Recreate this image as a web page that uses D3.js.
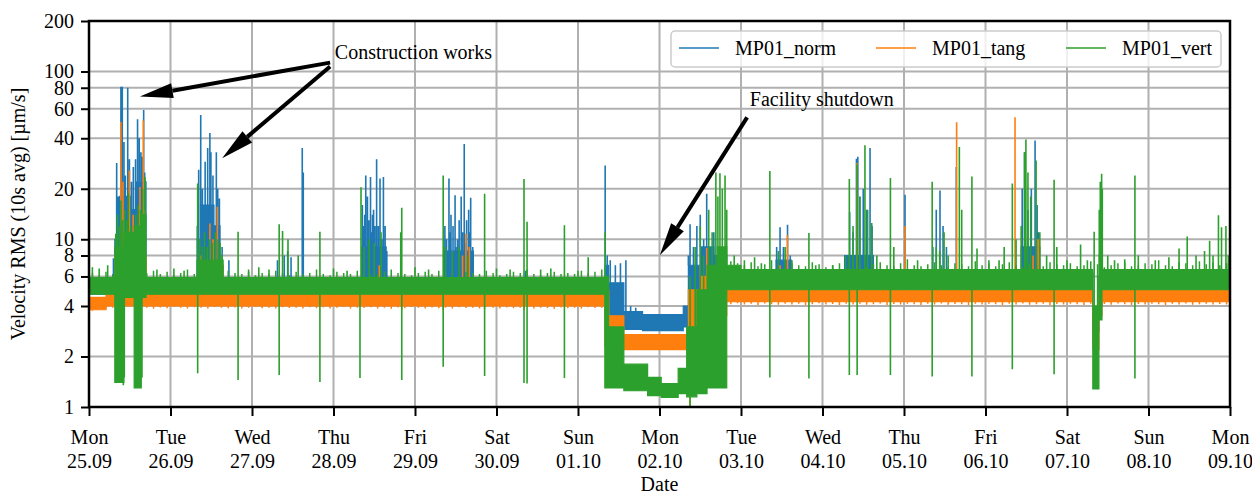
<!DOCTYPE html>
<html>
<head>
<meta charset="utf-8">
<script src="https://cdn.jsdelivr.net/npm/d3@7"></script>
<style>
  body { margin: 0; background: #fff; }
  svg { display: block; font-family: "Liberation Serif", "Times New Roman", serif; }
</style>
</head>
<body>
<svg id="chart" width="1252" height="494"></svg>
<script>
const W = 1252;
const H = 494;
const M = {top: 21, right: 22, bottom: 87, left: 89};

// time is in hours from Mon 25.09 00:00
const START = Date.UTC(2023, 8, 25);
const SPAN_HOURS = 336;

const yTicks = [1, 2, 4, 6, 8, 10, 20, 40, 60, 80, 100, 200];
const seriesNames = ['MP01_norm', 'MP01_tang', 'MP01_vert'];
const seriesColors = ['#1f77b4', '#ff7f0e', '#2ca02c'];

// noise band of each channel: [hour, low, high], a row holds until the next row
const normBand = [
  [0, 4.7, 5.8], [7.6, 5, 10], [9, 6, 18], [12.5, 6, 15], [14, 6, 22], [16.8, 4.7, 5.8],
  [31.8, 5.5, 10], [32.8, 6, 16], [36.8, 6, 12], [38.6, 5, 7], [39.5, 4.7, 5.8],
  [80.3, 5.5, 9], [87.5, 4.7, 5.8], [104.5, 5.5, 8.5], [113.2, 4.7, 5.8],
  [151.9, 3.6, 7], [153, 3.5, 5.5], [157.5, 2.9, 3.7], [163, 2.85, 3.55], [175, 3.0, 4.0],
  [176.5, 3.8, 7], [180, 4.5, 9], [184, 5, 8], [187.8, 5.0, 6.3],
  [202.3, 5.5, 7.5], [206.8, 5.0, 6.3], [222.5, 5.5, 8], [231, 5.0, 6.3],
  [274.5, 5.5, 9], [280, 5.0, 6.3], [295.6, 2.8, 3.6], [297.4, 4.0, 6], [298.3, 5.0, 6.3]
];
const tangBand = [
  [0, 3.8, 4.5], [5, 4.0, 4.7], [7.6, 4.0, 8], [16.8, 4.0, 4.7], [32, 4.0, 7], [39.5, 4.0, 4.7],
  [151.9, 2.3, 4.4], [153, 2.3, 3.5], [157.5, 2.2, 2.7], [176.5, 2.6, 5], [180, 3.0, 6], [184, 3.5, 6],
  [187.8, 4.25, 5.0], [295.6, 2.2, 3.2], [297.4, 3.5, 4.8], [298.3, 4.25, 5.0]
];
const vertBand = [
  [0, 4.7, 5.9], [7.6, 1.4, 9], [10.3, 4.5, 11], [13.3, 1.3, 12], [15.4, 4.5, 14], [16.8, 4.7, 5.9],
  [31.8, 4.7, 7.5], [39.5, 4.7, 5.9],
  [151.9, 1.3, 6], [153, 1.3, 3.0], [157.5, 1.25, 1.8], [164.5, 1.17, 1.5], [168.5, 1.14, 1.38],
  [173.5, 1.2, 1.7], [176, 1.15, 3], [179, 1.2, 5], [182, 1.3, 7], [185, 1.3, 9],
  [187.8, 5.0, 7.0], [192, 5.0, 6.6], [295.6, 1.28, 4], [297.4, 3.3, 8], [298.3, 5.0, 6.6]
];

// ragged edge of the quiet band, one reading every 2 h (0 = not read)
const vertTop = [
  6.3, 6.1, 6.4, 6.2, 0, 0, 0, 0, 6.3, 6.5,
  6.2, 6.4, 6.1, 6.3, 6.6, 6.2, 6.3, 6.1, 6.4, 6.2,
  6.5, 6.3, 6.2, 6.4, 6.1, 6.3, 6.2, 6.5, 6.3, 6.1,
  6.4, 6.2, 6.3, 6.6, 6.2, 6.1, 6.4, 6.3, 6.2, 6.5,
  6.3, 6.1, 6.2, 6.4, 6.6, 6.3, 6.2, 6.1, 6.3, 6.4,
  6.2, 6.5, 6.3, 6.2, 6.1, 6.4, 6.3, 6.2, 6.5, 6.3,
  6.1, 6.2, 6.4, 6.3, 6.6, 6.2, 6.1, 6.3, 6.4, 6.2,
  6.3, 6.2, 6.5, 6.3, 6.4, 6.6,
  0, 0, 0, 0, 0, 0, 0, 0, 0, 0, 0, 0, 0, 0, 0, 0, 0, 0,
  7.4, 7.2, 7.0, 7.3, 6.9, 7.1, 7.5, 7.0, 6.8, 7.2,
  7.0, 6.9, 7.3, 7.1, 6.8, 7.0, 7.2, 6.9, 7.4, 7.0,
  6.8, 7.1, 7.3, 7.0, 6.9, 7.2, 7.6, 7.0, 6.9, 7.1,
  7.3, 7.0, 6.8, 7.2, 7.1, 6.9, 7.4, 7.0, 7.2, 6.9,
  7.1, 7.3, 7.0, 6.8, 7.2, 7.0, 6.9, 7.3, 7.1, 7.0,
  7.2, 6.9, 7.0, 7.4, 7.1, 6.8, 7.0, 7.2, 7.3, 6.9,
  7.0, 7.2, 7.1, 7.5, 7.0, 6.9, 7.3, 7.2, 7.0, 7.4,
  7.1, 7.3, 7.0, 7.2
];
const tangLow = [
  3.75, 3.8, 3.85, 3.9, 0, 0, 0, 0, 3.9, 3.85,
  3.92, 3.88, 3.95, 3.9, 3.86, 3.93, 3.9, 3.87, 3.94, 3.9,
  3.88, 3.92, 3.86, 3.9, 3.94, 3.88, 3.91, 3.87, 3.93, 3.89,
  3.9, 3.86, 3.93, 3.88, 3.92, 3.87, 3.9, 3.94, 3.86, 3.91,
  3.89, 3.93, 3.87, 3.9, 3.85, 3.92, 3.88, 3.94, 3.9, 3.86,
  3.92, 3.88, 3.9, 3.86, 3.93, 3.89, 3.91, 3.87, 3.94, 3.9,
  3.86, 3.92, 3.88, 3.9, 3.94, 3.87, 3.91, 3.89, 3.85, 3.92,
  3.88, 3.9, 3.86, 3.93, 3.89, 3.91,
  0, 0, 0, 0, 0, 0, 0, 0, 0, 0, 0, 0, 0, 0, 0, 0, 0, 0,
  4.1, 4.15, 4.08, 4.12, 4.05, 4.14, 4.1, 4.07, 4.13, 4.09,
  4.12, 4.06, 4.1, 4.15, 4.08, 4.11, 4.05, 4.13, 4.09, 4.12,
  4.07, 4.1, 4.14, 4.06, 4.11, 4.08, 4.13, 4.1, 4.05, 4.12,
  4.09, 4.14, 4.07, 4.11, 4.1, 4.06, 4.13, 4.08, 4.12, 4.1,
  4.05, 4.12, 4.09, 4.14, 4.07, 4.1, 4.13, 4.06, 4.11, 4.08,
  4.12, 4.1, 4.05, 4.13, 4.09, 4.11, 4.07, 4.14, 4.1, 4.06,
  4.11, 4.08, 4.13, 4.1, 4.05, 4.12, 4.09, 4.14, 4.07, 4.1,
  4.12, 4.08, 4.11, 4.09
];

// single peaks and dips: [hour, value]
const normSpikes = [
  [7.2, 7.7], [8.15, 28.5], [8.6, 18], [9.4, 81], [9.8, 81], [10.3, 38], [10.7, 24], [11.4, 80],
  [11.9, 30], [12.5, 22], [13.05, 27], [13.7, 30], [14.3, 52], [14.8, 40], [15.3, 33], [15.6, 31],
  [16.1, 59], [16.4, 25],
  [31.9, 12], [32.3, 26], [32.9, 55], [33.4, 20], [34.2, 29], [34.95, 35], [35.6, 43], [35.9, 33],
  [36.5, 24], [37.5, 33], [37.9, 20], [38.4, 17.5], [39.2, 9], [41.2, 7.5],
  [55.5, 7.5], [57.5, 8], [58.5, 8.5], [59.5, 7.8], [62.8, 35], [63.1, 25],
  [80.5, 16], [80.8, 12], [81.2, 14], [81.5, 24], [82, 18], [82.4, 13], [82.9, 23.5], [83.1, 11],
  [83.5, 14], [83.8, 15], [84.2, 12], [84.7, 30], [85.2, 12], [85.7, 23], [86.2, 10], [86.7, 23.5],
  [87.2, 12], [87.7, 8.5],
  [104.8, 12], [105.3, 10], [106, 23], [106.3, 11], [106.6, 14], [107.2, 12], [107.8, 18.3],
  [108, 9], [108.5, 10], [109, 13], [109.6, 18], [110, 11], [110.5, 37], [110.8, 9.5], [111.2, 13],
  [111.8, 15], [112, 11], [112.4, 17.7], [113, 9], [128.5, 6.5],
  [152, 27.5], [152.6, 8], [153.5, 7.5], [155, 7], [156.5, 7.2], [158.1, 7.5], [159.5, 4], [161, 3.9],
  [176.5, 8], [177, 12.3], [178, 9], [179, 12], [180, 14], [181, 10], [181.9, 18.7], [183, 9],
  [184, 11], [185, 8],
  [202.5, 9], [203.5, 11.8], [204.5, 9], [205.7, 12.2], [206.5, 8],
  [223, 8], [224, 14.5], [225, 11], [226, 30.2], [226.4, 31], [227, 17.9], [228, 20], [229, 15],
  [230, 35], [230.6, 12], [240.3, 18.4],
  [248.5, 9], [249.5, 15], [250.6, 19.5], [251.5, 12], [252.5, 9], [255.4, 27],
  [274.8, 20], [275.5, 33], [276.5, 15], [277.5, 20], [278.6, 38.8], [279.2, 16], [279.6, 11]
];
const tangSpikes = [
  [9.4, 50], [10, 22], [11.9, 25.7], [13, 14], [15, 20.5], [16, 51], [16.3, 15],
  [33, 8], [35.6, 12.4], [36.5, 10], [37.8, 15.6], [85.5, 7], [110, 8], [111, 10.8], [112, 9],
  [92.1, 3.8], [104.3, 3.8], [116.5, 3.85], [128.1, 3.8],
  [153, 5], [177, 1.0], [180, 7], [181.9, 8.9], [203.5, 7], [205.7, 10.6],
  [226.2, 28.5], [240.3, 12], [255.5, 49.9], [272.7, 53.4], [278, 8], [279.5, 10], [296, 2.28]
];
const vertSpikes = [
  [1, 6.8], [3, 6.7], [5.5, 7],
  [7.9, 10.8], [8.4, 14], [9, 12], [9.4, 17], [9.9, 13], [10.5, 15], [11.1, 13], [11.6, 18.8],
  [12.3, 12], [13.1, 11], [13.8, 14], [14.5, 16], [15.2, 15], [15.8, 20], [16.5, 23.5],
  [32, 21.5], [32.6, 10], [33.3, 9], [34, 11], [34.8, 9], [35.5, 10], [36.3, 9.5], [37.2, 11],
  [38, 10], [38.6, 9.5], [39.2, 8],
  [20, 6.6], [25, 6.7], [28, 6.5], [43.9, 11.1], [47, 6.6], [50, 6.8], [53, 6.6],
  [56, 12.3], [57, 11.2], [58.6, 10], [61.6, 8], [68, 11.1], [72, 6.7], [76, 6.5],
  [80.1, 20.4], [81, 9], [82.5, 10], [84, 9.5], [86, 11], [91.8, 11], [92.1, 15.4], [96, 6.8],
  [100, 6.6], [104.3, 24], [105, 9], [107, 8.5], [109, 9], [111.5, 8], [116.5, 18.7], [120, 6.7],
  [124, 6.6], [128.1, 22.9], [129, 12.7], [133, 6.6], [136, 6.7], [140, 12.1], [144, 6.5],
  [147, 7.8], [152, 11],
  [177, 6], [178.5, 9], [180, 12], [181, 8], [182.5, 15], [183.5, 11], [184.6, 25], [185.2, 18],
  [185.8, 24.7], [186.5, 20], [187.3, 24], [187.8, 15],
  [190, 8], [193, 7.5], [196, 7.8], [198, 7.2], [200.5, 25.5], [203, 8.5], [205, 9], [207, 7.5],
  [212, 10.9], [214, 7], [219, 7], [222.8, 8], [223.9, 22.9], [225, 12], [226.2, 28], [227, 18],
  [228.5, 36.3], [229.3, 15], [230.5, 12.5], [232, 8], [236, 23.2], [237, 9], [244, 7.5],
  [248.3, 22], [249.5, 9], [250.5, 8.5], [251.8, 11], [253, 8], [256.3, 35.5], [257, 15],
  [260, 23.7], [261.5, 8.8], [265, 7.5], [268, 7.5], [269.5, 9], [271.9, 21.5], [273, 10],
  [274.5, 12], [275.5, 33], [275.9, 39.3], [276.5, 25], [277.3, 18], [278.9, 29.5], [280, 11],
  [282, 8], [284.2, 22.6], [285, 9], [288, 7.5], [292, 9.3], [294, 7.5], [296, 11.1],
  [297.5, 15], [297.8, 22], [298.2, 24.6], [298.4, 20], [300, 8], [302, 7.5], [305, 7.6],
  [308, 24], [309, 8], [314, 7.5], [318, 7.8], [321, 8.8], [323.4, 10.4], [326, 8], [328.5, 8.5],
  [330, 9.8], [331, 8], [332.6, 13.9], [333.5, 11.8], [334.8, 12], [335.5, 8],
  // dips
  [8, 1.59], [8.3, 1.39], [8.7, 1.5], [9.1, 1.6], [10.1, 1.35], [10.4, 1.5], [13.6, 1.7],
  [14, 1.3], [14.5, 1.4], [15, 1.35], [15.6, 1.5],
  [32, 1.59], [43.9, 1.45], [56, 1.55], [68, 1.41], [79.8, 1.49], [92.1, 1.45], [104.3, 1.74],
  [116.5, 1.53], [128.1, 1.39], [129, 1.38], [140, 1.49],
  [177, 1.0], [186.3, 1.32], [200.5, 1.5], [212, 1.48], [223.9, 1.55], [226.2, 1.55], [236, 1.55],
  [248.3, 1.52], [260, 1.52], [271.9, 1.68], [284.2, 1.57], [308, 1.48]
];

// annotations: text anchor and arrows in [hour, value]
const notes = [
  {text: 'Construction works', at: [72.4, 118],
   arrows: [{from: [71.0, 113], to: [15.0, 71]}, {from: [71.0, 107], to: [39.2, 30.4]}]},
  {text: 'Facility shutdown', at: [194.6, 61.9],
   arrows: [{from: [193.8, 53.3], to: [168.1, 8.03]}]}
];

const bands = [normBand, tangBand, vertBand];
const spikes = [normSpikes, tangSpikes, vertSpikes];
const edges = [[], tangLow, vertTop];

const hour = (h) => new Date(START + h * 3600e3);

const x = d3.scaleUtc()
    .domain([hour(0), hour(SPAN_HOURS)])
    .range([M.left, W - M.right]);
const y = d3.scaleLog()
    .domain([1, 200])
    .range([H - M.bottom, M.top]);

const svg = d3.select('#chart');
svg.append('rect').attr('width', W).attr('height', H).attr('fill', '#fff');

// grid
const days = d3.utcDay.range(hour(0), hour(SPAN_HOURS + 1));
const grid = svg.append('g').attr('stroke', '#b0b0b0').attr('stroke-width', 2);
grid.selectAll('line.v').data(days).join('line')
    .attr('class', 'v')
    .attr('x1', (d) => x(d)).attr('x2', (d) => x(d))
    .attr('y1', M.top).attr('y2', H - M.bottom);
grid.selectAll('line.h').data(yTicks).join('line')
    .attr('class', 'h')
    .attr('x1', M.left).attr('x2', W - M.right)
    .attr('y1', (d) => y(d)).attr('y2', (d) => y(d));

svg.append('clipPath').attr('id', 'plot')
  .append('rect')
    .attr('x', M.left).attr('y', M.top)
    .attr('width', W - M.left - M.right).attr('height', H - M.top - M.bottom);

const area = d3.area()
    .x((d) => x(hour(d[0])))
    .y0((d) => y(d[1]))
    .y1((d) => y(d[2]))
    .curve(d3.curveStepAfter);

const bandAt = (band, h) => {
  const i = d3.bisector((d) => d[0]).right(band, h) - 1;
  return band[Math.max(0, i)];
};

const spikePath = (band, list) => list.map(([h, v]) => {
  const b = bandAt(band, h);
  if (v <= b[2] && v >= b[1]) return '';
  const base = v > b[2] ? b[2] : b[1];
  const px = x(hour(h));
  return `M${px},${y(base)}V${y(v)}`;
}).join('');

const data = svg.append('g').attr('clip-path', 'url(#plot)');
bands.forEach((band, i) => {
  const last = band[band.length - 1];
  const rows = band.concat([[SPAN_HOURS, last[1], last[2]]]);
  const g = data.append('g');
  g.append('path')
      .attr('d', area(rows))
      .attr('fill', seriesColors[i])
      .attr('stroke', seriesColors[i])
      .attr('stroke-width', 1.2);
  const edge = edges[i]
      .map((v, k) => [2 * k + 1, v])
      .filter((d) => d[1] > 0);
  g.append('path')
      .attr('d', spikePath(band, edge))
      .attr('fill', 'none')
      .attr('stroke', seriesColors[i])
      .attr('stroke-width', 1.5);
  g.append('path')
      .attr('d', spikePath(band, spikes[i]))
      .attr('fill', 'none')
      .attr('stroke', seriesColors[i])
      .attr('stroke-width', 1.6);
});

// axes
const xAxis = svg.append('g')
    .attr('transform', `translate(0,${H - M.bottom})`)
    .call(d3.axisBottom(x).tickValues(days).tickSize(9).tickFormat(() => ''));
xAxis.select('.domain').remove();
xAxis.attr('font-family', null);
xAxis.selectAll('.tick line').attr('stroke', '#000').attr('stroke-width', 2);
const fmtDay = d3.utcFormat('%a');
const fmtDate = d3.utcFormat('%d.%m');
xAxis.selectAll('.tick text').remove();
xAxis.selectAll('.tick').append('text')
    .attr('fill', '#000')
    .attr('font-size', 20)
    .attr('text-anchor', 'middle')
    .each(function(d) {
      const t = d3.select(this);
      t.append('tspan').attr('x', 0).attr('y', 37).text(fmtDay(d));
      t.append('tspan').attr('x', 0).attr('y', 61).text(fmtDate(d));
    });

const yAxis = svg.append('g')
    .attr('transform', `translate(${M.left},0)`)
    .call(d3.axisLeft(y).tickValues(yTicks).tickFormat(d3.format('d')).tickSize(8).tickPadding(7));
yAxis.select('.domain').remove();
yAxis.attr('font-family', null);
yAxis.selectAll('.tick line').attr('stroke', '#000').attr('stroke-width', 2);
yAxis.selectAll('.tick text')
    .attr('fill', '#000')
    .attr('font-size', 20);

svg.append('rect')
    .attr('x', M.left).attr('y', M.top)
    .attr('width', W - M.left - M.right).attr('height', H - M.top - M.bottom)
    .attr('fill', 'none').attr('stroke', '#000').attr('stroke-width', 2.5);

svg.append('text')
    .attr('x', (M.left + W - M.right) / 2).attr('y', 491)
    .attr('text-anchor', 'middle').attr('font-size', 20)
    .text('Date');
svg.append('text')
    .attr('transform', `translate(25,${(M.top + H - M.bottom) / 2}) rotate(-90)`)
    .attr('text-anchor', 'middle').attr('font-size', 20)
    .text('Velocity RMS (10s avg) [µm/s]');

// annotations
const pt = ([h, v]) => [x(hour(h)), y(v)];
const ann = svg.append('g');
notes.forEach((n) => {
  const [tx, ty] = pt(n.at);
  ann.append('text').attr('x', tx).attr('y', ty).attr('font-size', 20).text(n.text);
  n.arrows.forEach((a) => {
    const [x0, y0] = pt(a.from);
    const [x1, y1] = pt(a.to);
    const len = Math.hypot(x1 - x0, y1 - y0);
    const ux = (x1 - x0) / len, uy = (y1 - y0) / len;
    const headL = 33, headW = 15;
    const bx = x1 - ux * headL, by = y1 - uy * headL;
    ann.append('line')
        .attr('x1', x0).attr('y1', y0).attr('x2', bx).attr('y2', by)
        .attr('stroke', '#000').attr('stroke-width', 4);
    ann.append('polygon')
        .attr('points', [
          [x1, y1],
          [bx - uy * headW / 2, by + ux * headW / 2],
          [bx + uy * headW / 2, by - ux * headW / 2]
        ].map((p) => p.join(',')).join(' '))
        .attr('fill', '#000');
  });
});

// legend
const legend = svg.append('g');
legend.append('rect')
    .attr('x', 671).attr('y', 31).attr('width', 550).attr('height', 36).attr('rx', 4)
    .attr('fill', '#fff').attr('fill-opacity', 0.8)
    .attr('stroke', '#cccccc').attr('stroke-width', 1.5);
const legendX = [679, 876, 1066];
seriesNames.forEach((name, i) => {
  legend.append('line')
      .attr('x1', legendX[i]).attr('x2', legendX[i] + 40)
      .attr('y1', 48).attr('y2', 48)
      .attr('stroke', seriesColors[i]).attr('stroke-width', 1.6);
  legend.append('text')
      .attr('x', legendX[i] + 56).attr('y', 55)
      .attr('font-size', 20)
      .text(name);
});
</script>
</body>
</html>
